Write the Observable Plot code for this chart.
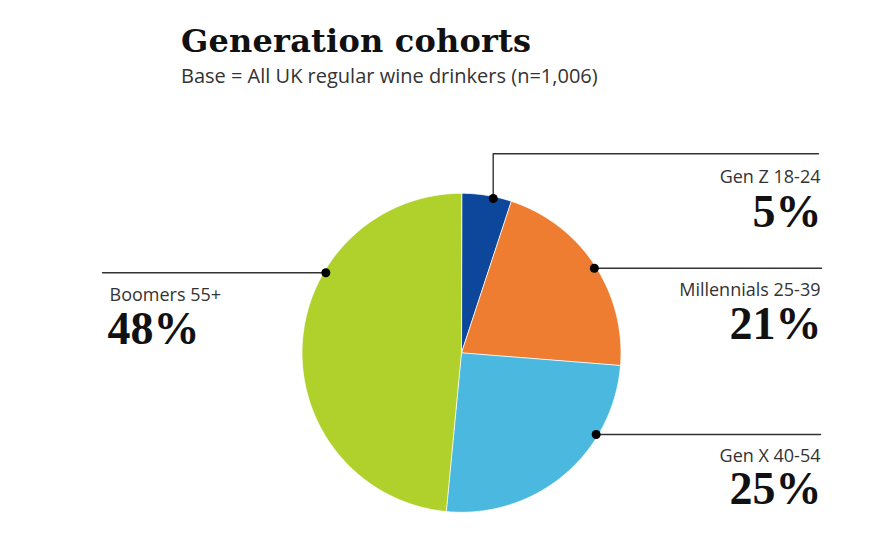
<!DOCTYPE html>
<html><head><meta charset="utf-8">
<script src="https://cdn.jsdelivr.net/npm/d3@7"></script>
<script src="https://cdn.jsdelivr.net/npm/@observablehq/plot@0.6"></script>
<style>
body{margin:0;background:#fff;width:892px;height:560px;overflow:hidden}
#head{position:relative;height:95px}
#title{position:absolute;left:181px;top:25px;font:bold 32px/32px "DejaVu Serif";color:#111;white-space:nowrap;letter-spacing:0.2px}
#sub{position:absolute;left:181px;top:66px;font:20px/20px "Open Sans";color:#333;white-space:nowrap}
.pct text{font-family:"Liberation Serif","Times New Roman",serif !important}
</style></head><body>
<div id="head"><div id="title">Generation cohorts</div><div id="sub">Base = All UK regular wine drinkers (n=1,006)</div></div>
<div id="chart"></div>
<script>
// ---- data ----
const categories = ["Gen Z 18-24", "Millennials 25-39", "Gen X 40-54", "Boomers 55+"];
const shares = [5, 21, 25, 48];
const pctLabels = ["5%", "21%", "25%", "48%"];
const colors = ["#0c479c", "#ee7d31", "#4bb8e0", "#b0d12b"];

// ---- layout (page pixels) ----
const TOP = 95, W = 892, H = 465;
const CX = 461, CY = 352.3 - TOP, R = 159.5, RDOT = 157.5;
const leaders = [
  {side: "right", vertical: true, x: 492.7, y: 153.3, end: 818, labelY: 182.3, pctY: 226.7},
  {side: "right", y: 267.7, end: 821, labelY: 295.7, pctY: 338.3},
  {side: "right", y: 434, end: 820, labelY: 461.7, pctY: 503.3},
  {side: "left", y: 272.3, end: 102, labelY: 300, pctY: 343.3}
];
const X = px => (px - CX) / R;
const Y = py => -((py - TOP) - CY) / R;

// pie slices
const arcs = d3.pie().sort(null).startAngle(0).endAngle(2 * Math.PI)(shares);
const slicePts = [];
arcs.forEach((a, i) => {
  slicePts.push({cat: categories[i], x: 0, y: 0});
  const n = Math.max(2, Math.ceil((a.endAngle - a.startAngle) / (Math.PI / 360)));
  for (let k = 0; k <= n; k++) {
    const t = a.startAngle + (a.endAngle - a.startAngle) * k / n;
    slicePts.push({cat: categories[i], x: Math.sin(t), y: Math.cos(t)});
  }
});

// leaders, dots, labels
const leaderPts = [], dots = [], labels = [], pcts = [];
leaders.forEach((L, i) => {
  const cat = categories[i];
  const rd = RDOT / R;
  if (L.vertical) {
    const dx = X(L.x);
    const dy = Math.sqrt(rd * rd - dx * dx);
    dots.push({x: dx, y: dy});
    leaderPts.push({cat, x: dx, y: dy}, {cat, x: dx, y: Y(L.y)}, {cat, x: X(L.end), y: Y(L.y)});
  } else {
    const dy = Y(L.y);
    const dx = Math.sqrt(rd * rd - dy * dy) * (L.side === "left" ? -1 : 1);
    dots.push({x: dx, y: dy});
    leaderPts.push({cat, x: dx, y: dy}, {cat, x: X(L.end), y: dy});
  }
  const lx = L.side === "left" ? X(109) : X(820);
  const anchor = L.side === "left" ? "start" : "end";
  labels.push({x: lx, y: Y(L.labelY), text: cat, anchor});
  pcts.push({x: L.side === "left" ? X(107) : X(821), y: Y(L.pctY), text: pctLabels[i], anchor});
});

const chart = Plot.plot({
  width: W, height: H, margin: 0,
  style: {background: "white", overflow: "visible"},
  x: {domain: [X(0), X(W)], range: [0, W], axis: null},
  y: {domain: [Y(TOP + H), Y(TOP)], range: [H, 0], axis: null},
  color: {domain: categories, range: colors},
  marks: [
    Plot.line(slicePts, {x: "x", y: "y", z: "cat", fill: "cat", stroke: "white", strokeWidth: 0.8, curve: "linear-closed"}),
    Plot.line(leaderPts, {x: "x", y: "y", z: "cat", stroke: "#333", strokeWidth: 1.4}),
    Plot.dot(dots, {x: "x", y: "y", r: 4.5, fill: "#000"}),
    Plot.text(labels.filter(d => d.anchor === "end"), {x: "x", y: "y", text: "text", textAnchor: "end", lineAnchor: "bottom", fontFamily: "Open Sans", fontSize: 18, fill: "#333"}),
    Plot.text(labels.filter(d => d.anchor === "start"), {x: "x", y: "y", text: "text", textAnchor: "start", lineAnchor: "bottom", fontFamily: "Open Sans", fontSize: 18, fill: "#333"}),
    Plot.text(pcts.filter(d => d.anchor === "end"), {x: "x", y: "y", text: "text", textAnchor: "end", lineAnchor: "bottom", fontFamily: "Liberation Serif", fontWeight: "bold", fontSize: 46, fill: "#111", className: "pct"}),
    Plot.text(pcts.filter(d => d.anchor === "start"), {x: "x", y: "y", text: "text", textAnchor: "start", lineAnchor: "bottom", fontFamily: "Liberation Serif", fontWeight: "bold", fontSize: 46, fill: "#111", className: "pct"})
  ]
});
document.getElementById("chart").appendChild(chart);
</script>
</body></html>
